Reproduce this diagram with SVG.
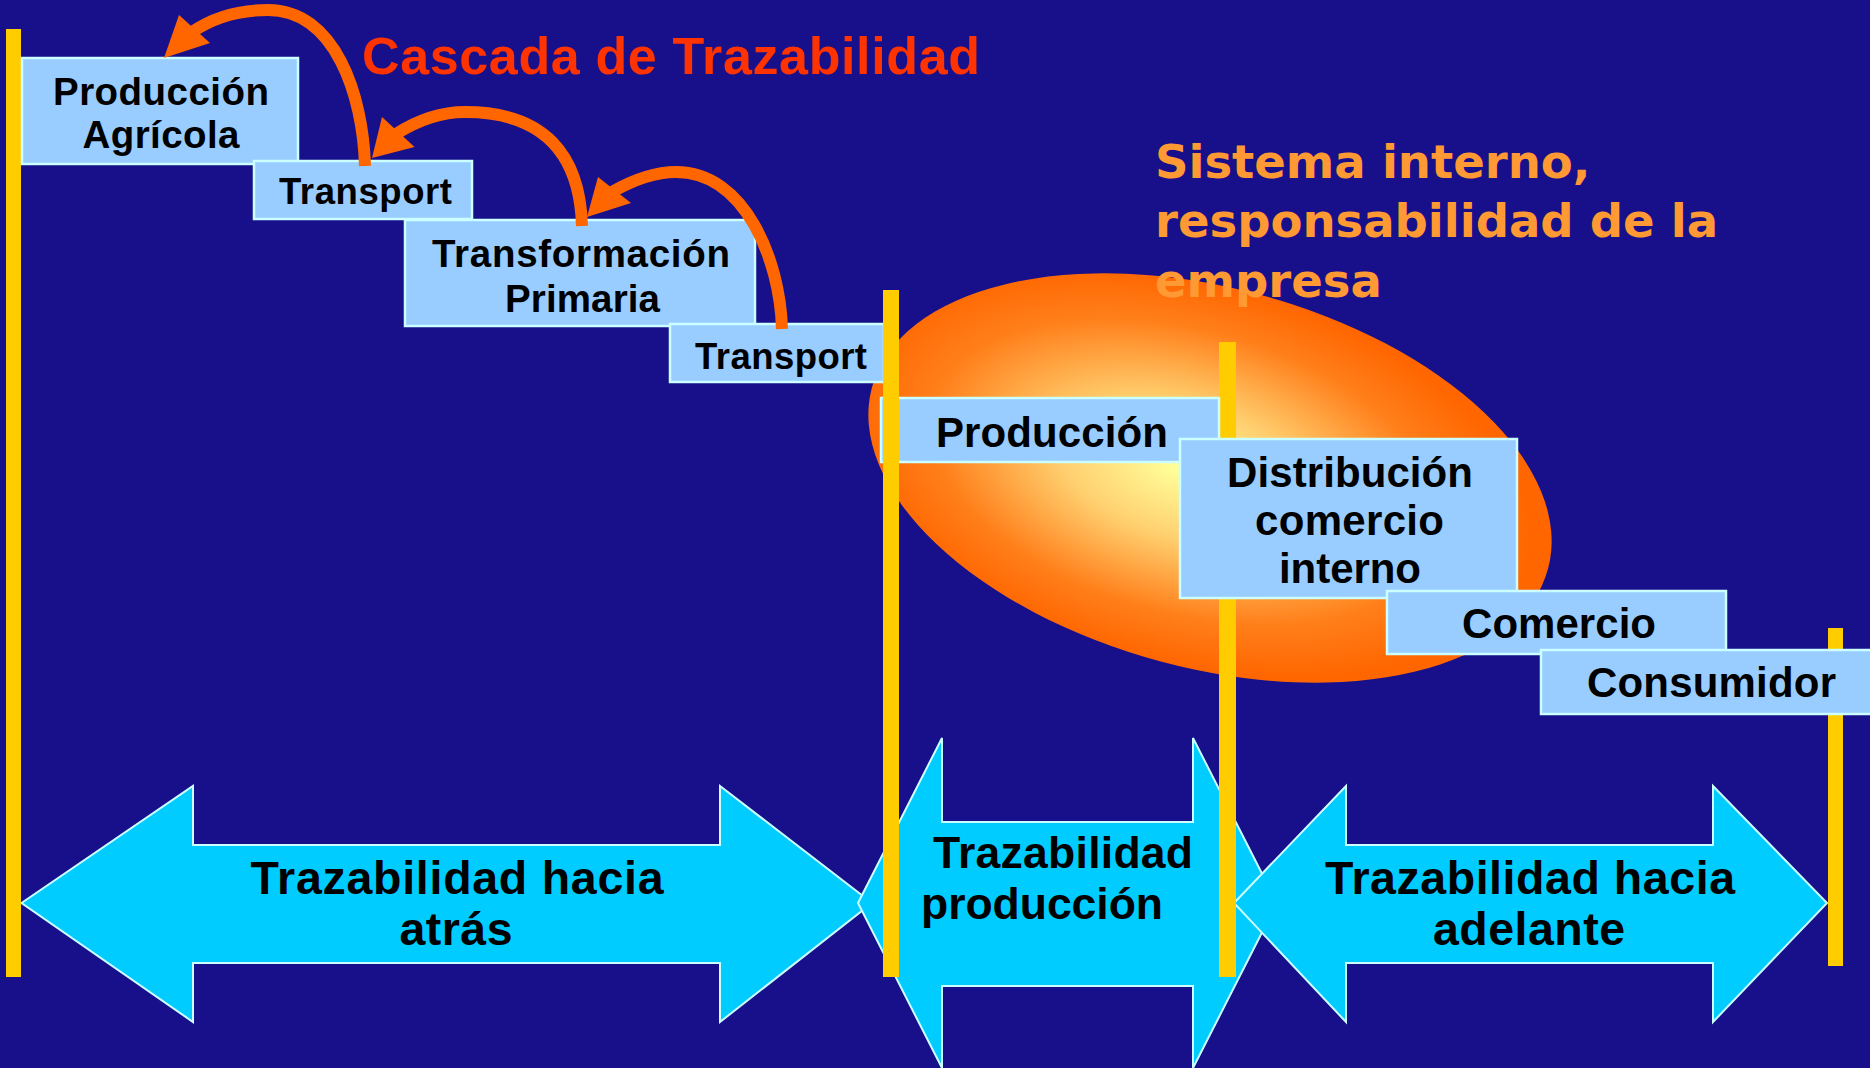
<svg xmlns="http://www.w3.org/2000/svg" width="1870" height="1068" viewBox="0 0 1870 1068">
<defs>
<radialGradient id="glow" cx="0.47" cy="0.5" r="0.5" fx="0.45" fy="0.5">
<stop offset="0" stop-color="#FFFF99"/>
<stop offset="0.35" stop-color="#FFD070"/>
<stop offset="0.75" stop-color="#FF7F1A"/>
<stop offset="1" stop-color="#FF6600"/>
</radialGradient>
<style>
.box{fill:#99CCFF;stroke:#CCFFFF;stroke-width:2.5}
.bar{fill:#FFCC00}
.big{fill:#00CCFF;stroke:#CCFFFF;stroke-width:2;stroke-linejoin:miter}
.bt{font-family:"Liberation Sans",Arial,sans-serif;font-weight:bold;fill:#000;text-anchor:middle}
.curve{fill:none;stroke:#FF6600;stroke-width:12}
.head{fill:#FF6600}
</style>
</defs>
<rect width="1870" height="1068" fill="#18108A"/>
<g id="ellipse">
<ellipse cx="1210" cy="478" rx="350" ry="190" transform="rotate(15 1210 478)" fill="url(#glow)"/>
</g>
<g id="sistema-label">
<text font-family="'DejaVu Sans',Verdana,sans-serif" font-weight="bold" font-size="46.5" fill="#FF9933">
<tspan x="1155" y="178">Sistema interno,</tspan>
<tspan x="1155" y="237">responsabilidad de la</tspan>
<tspan x="1155" y="297">empresa</tspan>
</text>
</g>
<g id="arrow-atras">
<path class="big" d="M21.5,903 L193,786 L193,845 L720,845 L720,786 L872,903 L720,1022 L720,963 L193,963 L193,1022 Z"/>
<text class="bt" font-size="46.5"><tspan x="457" y="894" textLength="413">Trazabilidad hacia</tspan><tspan x="456" y="945" textLength="113">atrás</tspan></text>
</g>
<g id="arrow-produccion">
<path class="big" d="M858,903 L942,738 L942,822 L1193,822 L1193,738 L1277,903 L1193,1068 L1193,986 L942,986 L942,1068 Z"/>
<text class="bt" font-size="44.5" style="text-anchor:start"><tspan x="933" y="868" textLength="260">Trazabilidad</tspan><tspan x="921" y="919" textLength="242">producción</tspan></text>
</g>
<g id="arrow-adelante">
<path class="big" d="M1234,903 L1346,786 L1346,845 L1713,845 L1713,786 L1827,903 L1713,1022 L1713,963 L1346,963 L1346,1022 Z"/>
<text class="bt" font-size="46.5"><tspan x="1530" y="894" textLength="410">Trazabilidad hacia</tspan><tspan x="1529" y="945" textLength="192">adelante</tspan></text>
</g>
<g id="bars-back">
<rect class="bar" x="6" y="29" width="15" height="948"/>
<rect class="bar" x="1219" y="342" width="17" height="635"/>
<rect class="bar" x="1828" y="628" width="15" height="338"/>
</g>
<g id="produccion-agricola">
<rect class="box" x="22" y="58" width="276" height="106"/>
<text class="bt" font-size="38.5"><tspan x="161" y="105" textLength="216">Producción</tspan><tspan x="161" y="148" textLength="157">Agrícola</tspan></text>
</g>
<g id="transport-1">
<rect class="box" x="254" y="161" width="218" height="58"/>
<text class="bt" font-size="36.5"><tspan x="365.5" y="204" textLength="173">Transport</tspan></text>
</g>
<g id="transformacion-primaria">
<rect class="box" x="405" y="220" width="350" height="106"/>
<text class="bt" font-size="38.5"><tspan x="581" y="267" textLength="298">Transformación</tspan><tspan x="582.5" y="312" textLength="155">Primaria</tspan></text>
</g>
<g id="transport-2">
<rect class="box" x="670" y="324" width="214" height="58"/>
<text class="bt" font-size="36.5"><tspan x="781" y="369" textLength="172">Transport</tspan></text>
</g>
<g id="produccion">
<rect class="box" x="881" y="398" width="338" height="64"/>
<text class="bt" font-size="42"><tspan x="1052" y="447" textLength="232">Producción</tspan></text>
</g>
<g id="distribucion">
<rect class="box" x="1180" y="439" width="337" height="159"/>
<text class="bt" font-size="42"><tspan x="1350" y="487" textLength="246">Distribución</tspan><tspan x="1349.5" y="535" textLength="189">comercio</tspan><tspan x="1350" y="583" textLength="142">interno</tspan></text>
</g>
<g id="comercio">
<rect class="box" x="1387" y="591" width="339" height="63"/>
<text class="bt" font-size="42"><tspan x="1559" y="638" textLength="194">Comercio</tspan></text>
</g>
<g id="consumidor">
<rect class="box" x="1541" y="650" width="340" height="64"/>
<text class="bt" font-size="42"><tspan x="1711.5" y="697" textLength="249">Consumidor</tspan></text>
</g>
<g id="bars-front">
<rect class="bar" x="883" y="290" width="16" height="687"/>
</g>
<g id="connectors">
<path class="curve" d="M365,166 C363,95 335,10 268,10 C240,10 214,17 192,32"/>
<polygon class="head" points="164,58 179,15 210,43"/>
<path class="curve" d="M582,226 C580,155 545,112 465,112 C440,112 418,120 396,134"/>
<polygon class="head" points="372,158 382,117 414.5,147"/>
<path class="curve" d="M782,329 C780,260 745,172 676,172 C655,172 633,180 612,192"/>
<polygon class="head" points="587,217 598,177 631,203"/>
</g>
<g id="title">
<text x="362" y="74" font-family="'Liberation Sans',Arial,sans-serif" font-weight="bold" font-size="52" fill="#FF3300" textLength="618">Cascada de Trazabilidad</text>
</g>
</svg>
